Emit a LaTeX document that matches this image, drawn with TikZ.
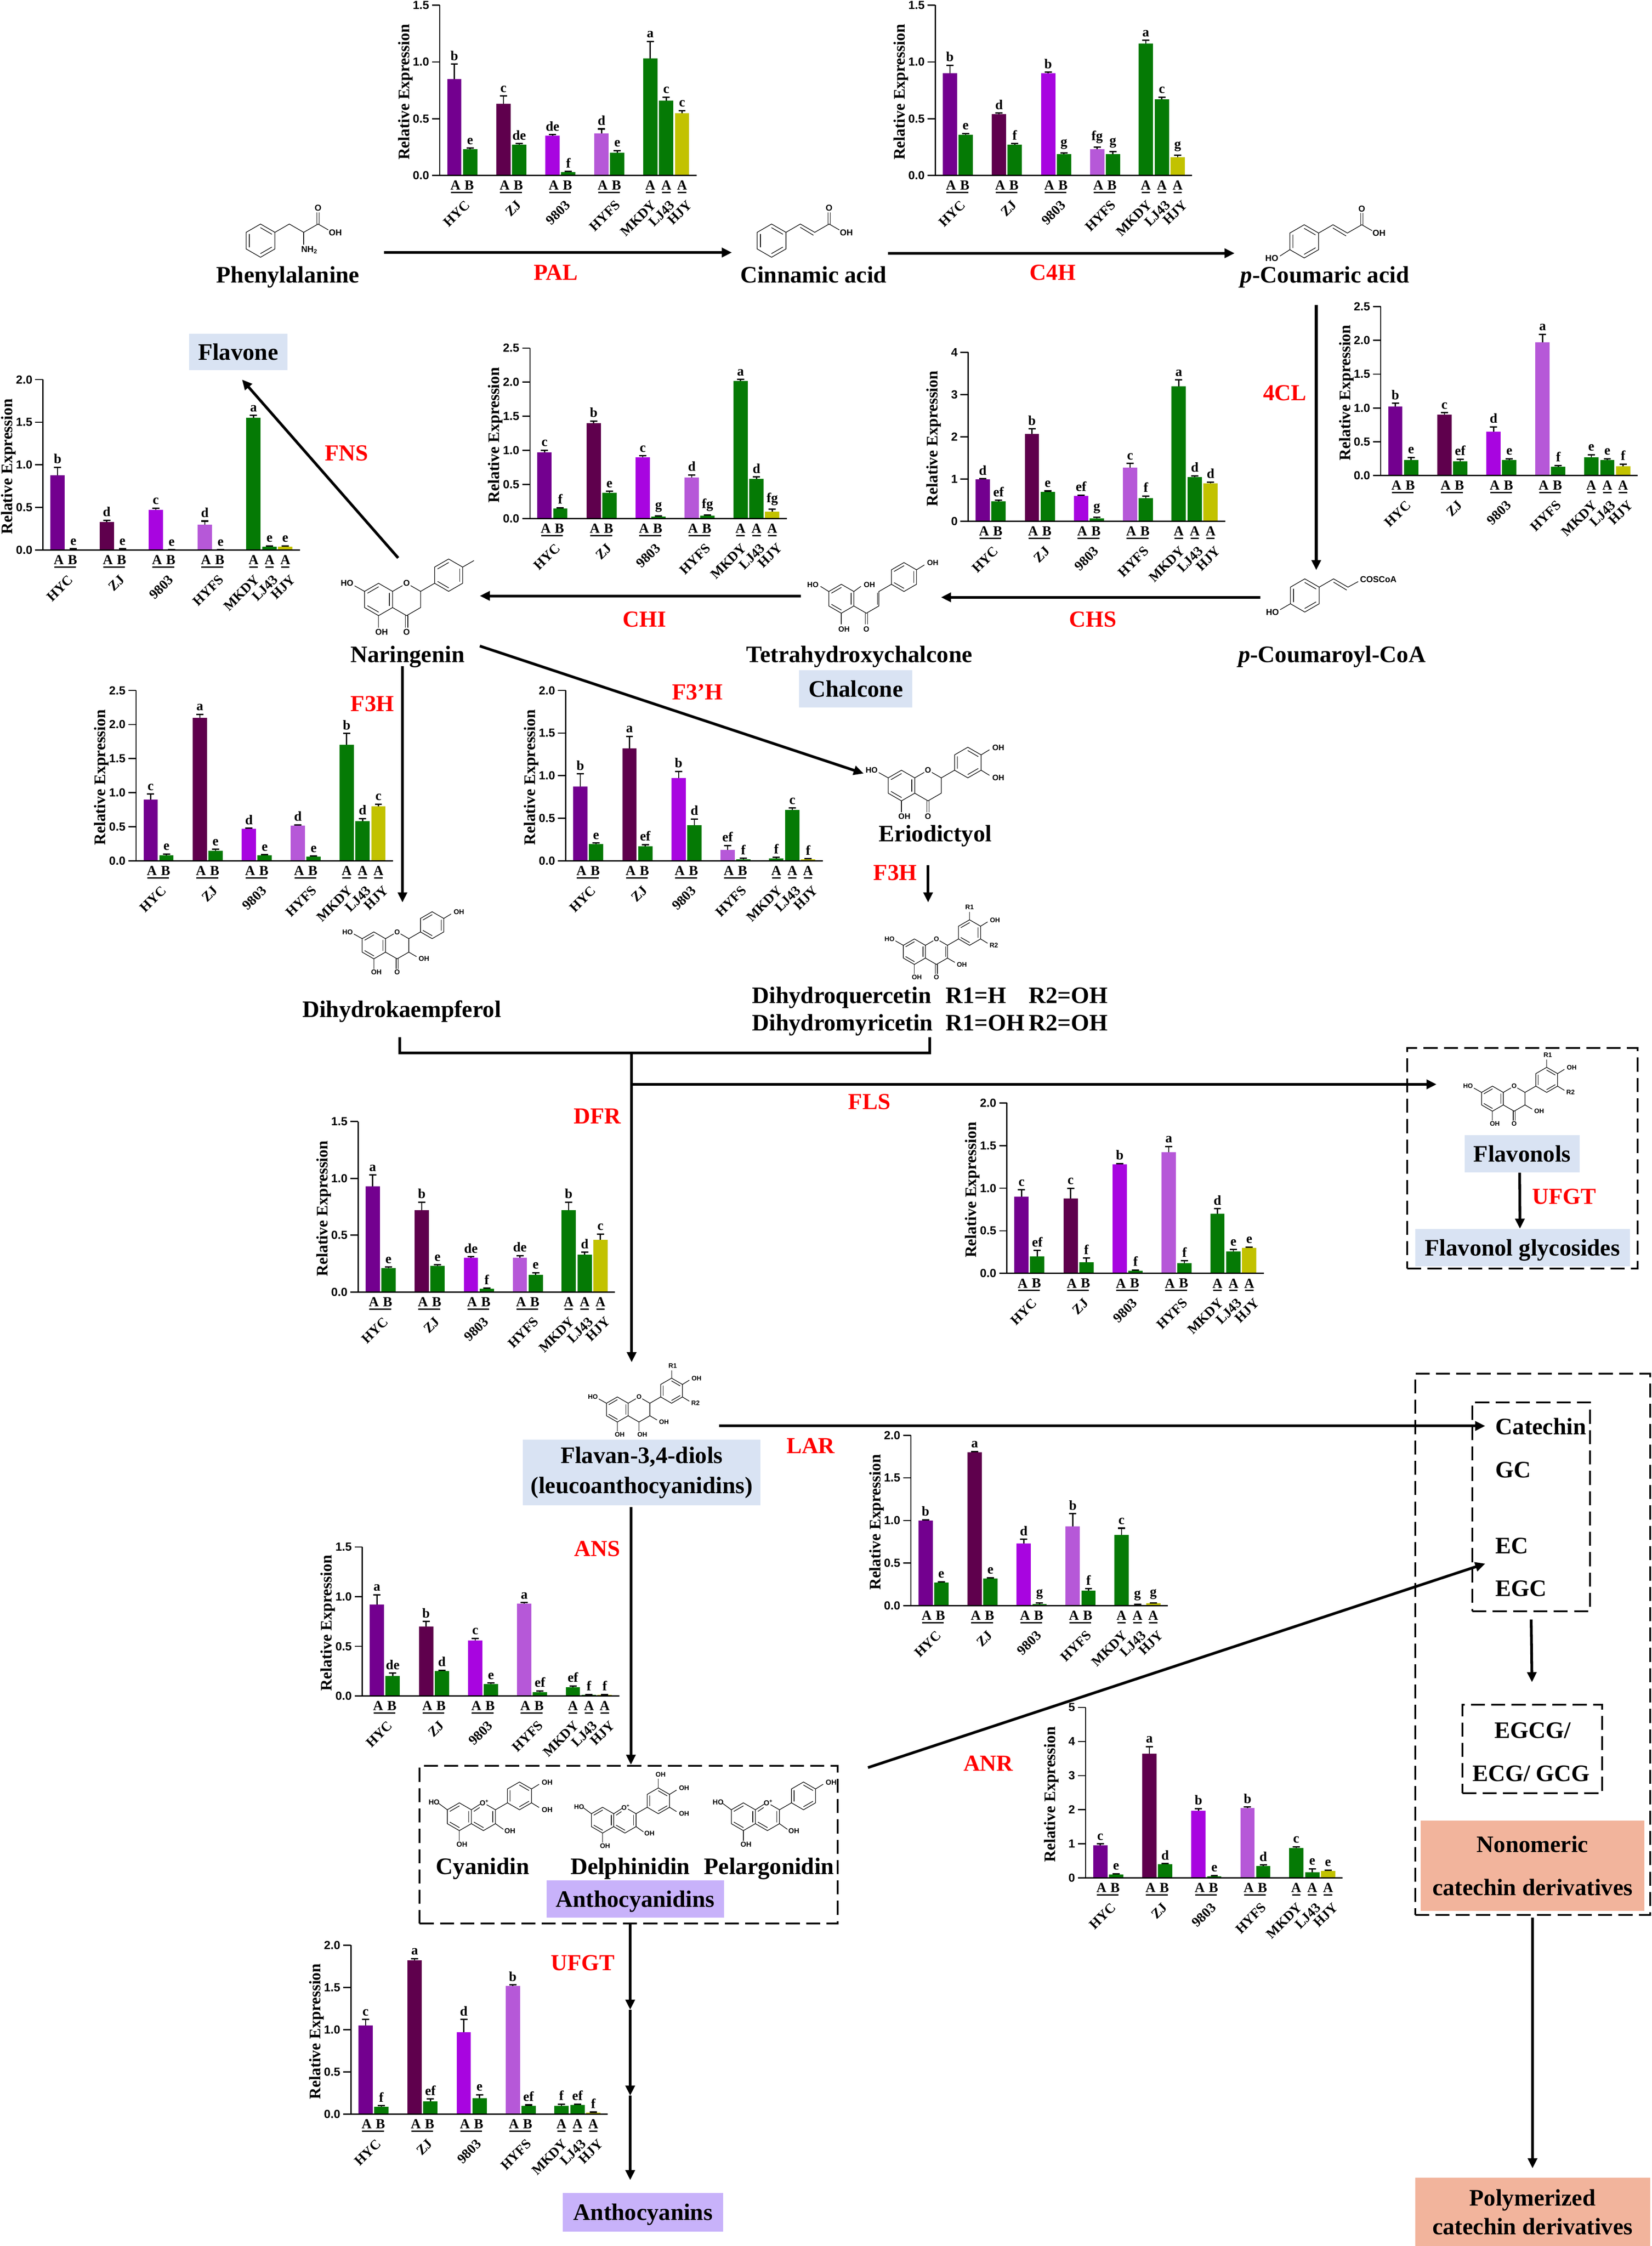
\documentclass[tikz,border=0pt]{standalone}
\usepackage{fontspec}
\setmainfont{Liberation Serif}
\newfontfamily\molfont{Liberation Sans}
\usetikzlibrary{arrows.meta}
\definecolor{c1}{HTML}{73008F}
\definecolor{c3}{HTML}{5F004D}
\definecolor{c5}{HTML}{A805E0}
\definecolor{c7}{HTML}{B658D8}
\definecolor{cg}{HTML}{057A05}
\definecolor{c11}{HTML}{C2C200}
\colorlet{c2}{cg}\colorlet{c4}{cg}\colorlet{c6}{cg}\colorlet{c8}{cg}\colorlet{c9}{cg}\colorlet{c10}{cg}
\definecolor{boxblue}{HTML}{D9E3F3}
\definecolor{boxviolet}{HTML}{C8B2FA}
\definecolor{boxsalmon}{HTML}{F2B49C}
\tikzset{
  ln/.style={line width=1.9pt,draw=black},
  arr/.style={ln,-{Triangle[length=7pt,width=6.4pt]}},
  bond/.style={line width=0.42pt,draw=black,line cap=round},
  mollab/.style={font=\molfont\bfseries\fontsize{\fs}{\fs}\selectfont,inner sep=0pt},
  cname/.style={font=\bfseries\fontsize{16.5}{18}\selectfont,inner sep=0pt,anchor=base,yshift=-5.5pt},
  cleft/.style={cname,anchor=base west},
  enz/.style={font=\bfseries\fontsize{16}{18}\selectfont,text=red,inner sep=0pt,anchor=base,yshift=-5.5pt},
  pbox/.style={font=\bfseries\fontsize{16.5}{18}\selectfont,inner sep=0pt,align=center},
  dashbox/.style={draw=black,line width=1.25pt,dash pattern=on 9.8pt off 4.4pt,inner sep=0pt},
  tick/.style={line width=.85pt,draw=black},
  ticklab/.style={font=\molfont\bfseries\fontsize{8.2}{9}\selectfont,inner sep=0pt,anchor=east},
  ylab/.style={font=\bfseries\fontsize{11.2}{12}\selectfont,inner sep=0pt,rotate=90},
  sig/.style={font=\bfseries\fontsize{9.5}{10}\selectfont,inner sep=0pt,anchor=south},
  ablab/.style={font=\bfseries\fontsize{9.7}{10}\selectfont,inner sep=0pt},
  cultivar/.style={font=\bfseries\fontsize{9.6}{10}\selectfont,inner sep=0pt,anchor=east,rotate=45}
}
\newcount\nlab
\newcommand\lab[2]{\global\advance\nlab 1 \node[mollab] (ml\the\nlab) at #1 {#2};}
\def\offs{{5.2,16.2,39.5,50.5,73.8,84.8,108,119,142,153.2,164.2}}
% id, x0, y0, H, ymax, ticks, data
\newcommand\chart[7]{%
  \foreach \v/\e/\l [count=\i] in {#7}{%
    \pgfmathsetmacro\off{\offs[\i-1]}%
    \pgfmathsetmacro\bx{#2+\off}%
    \pgfmathsetmacro\bxe{\bx+10}%
    \pgfmathsetmacro\bxc{\bx+5}%
    \pgfmathsetmacro\by{#3-#4*\v/#5}%
    \pgfmathsetmacro\ey{#3-#4*(\v+\e)/#5}%
    \fill[c\i] (\bx,#3) rectangle (\bxe,\by);
    \draw[line width=.8pt] (\bxc,\by) -- (\bxc,\ey);
    \draw[line width=.95pt] ({\bxc-2.5},\ey) -- ({\bxc+2.5},\ey);
    \node[sig] (#1-s\i) at (\bxc,{\ey-2.4}) {\l};
  }
  \draw[tick] (#2,{#3-#4}) -- (#2,#3);
  \draw[tick] ({#2-5.4},#3) -- ({#2+179.4},#3);
  \foreach \t [count=\i] in {#6}{%
    \pgfmathsetmacro\ty{#3-#4*\t/#5}%
    \draw[tick] ({#2-5.4},\ty) -- (#2,\ty);
    \node[ticklab] (#1-t\i) at ({#2-7.2},\ty) {\t};
  }
  \node[ylab] (#1-y) at ({#2-24},{#3-0.49*#4}) {Relative Expression};
  \foreach \g [count=\i] in {5.2,39.5,73.8,108}{%
    \node[ablab] (#1-a\i) at ({#2+\g+5.8},{#3+6.9}) {A};
    \node[ablab] (#1-b\i) at ({#2+\g+15.4},{#3+6.9}) {B};
    \draw[line width=1pt] ({#2+\g+2.6},{#3+11.9}) -- ({#2+\g+17.8},{#3+11.9});
  }
  \foreach \g [count=\i] in {147,158.2,169.2}{%
    \node[ablab] (#1-c\i) at ({#2+\g},{#3+6.9}) {A};
    \draw[line width=1pt] ({#2+\g-2.9},{#3+11.9}) -- ({#2+\g+2.9},{#3+11.9});
  }
  \foreach \rx/\nm [count=\i] in {19.5/HYC,55.5/ZJ,89.5/9803,124.5/HYFS,149.5/MKDY,162.5/LJ43,174.5/HJY}{%
    \node[cultivar] (#1-n\i) at ({#2+\rx},{#3+19}) {\nm};
  }
}
% molecule scope: x,y,b,body
\newcommand\mol[4]{%
  \pgfmathsetmacro\hh{0.866*#3}\pgfmathsetmacro\fs{0.52*#3}%
  \begin{scope}[shift={(#1,#2)},x=\hh pt,y=-#3pt]
  #4
  \end{scope}}
\newcommand\hexa[2]{\draw[bond] (#1,{#2-1}) -- ({#1+1},{#2-.5}) -- ({#1+1},{#2+.5}) -- (#1,{#2+1}) -- ({#1-1},{#2+.5}) -- ({#1-1},{#2-.5}) -- cycle;}
% inner edges: left-top, right, bottom-left
\newcommand\hexI[2]{\hexa{#1}{#2}
  \draw[bond] ({#1-.78},{#2-.39}) -- (#1,{#2-.78});
  \draw[bond] ({#1+.78},{#2-.39}) -- ({#1+.78},{#2+.39});
  \draw[bond] (#1,{#2+.78}) -- ({#1-.78},{#2+.39});}
% inner edges: right-top, right-bottom, left
\newcommand\hexII[2]{\hexa{#1}{#2}
  \draw[bond] (#1,{#2-.78}) -- ({#1+.78},{#2-.39});
  \draw[bond] ({#1+.78},{#2+.39}) -- (#1,{#2+.78});
  \draw[bond] ({#1-.78},{#2+.39}) -- ({#1-.78},{#2-.39});}
\newcommand\aring{\hexI{0}{0}
  \draw[bond] (-1,-.5) -- (-1.7,-.84);
  \draw[bond] (0,1) -- (0,1.73);
  \lab{(-2.25,-1)}{HO}\lab{(.22,2)}{OH}}
\newcommand\cbasic{%
  \draw[bond] (1,-.5) -- (1.7,-.85);
  \draw[bond] (2.3,-.85) -- (3,-.5) -- (3,.5) -- (2,1) -- (1,.5);
  \draw[bond] (3,-.5) -- (4,-1);
  \lab{(2,-1)}{O}}
\newcommand\cketo{\draw[bond] (1.91,1) -- (1.91,1.73); \draw[bond] (2.09,1) -- (2.09,1.73); \lab{(2,2)}{O}}
\newcommand\ohthree{\draw[bond] (3,.5) -- (3.65,.83); \lab{(4.3,1)}{OH}}
\newcommand\ohtop{\draw[bond] (6,-2) -- (6.62,-2.33); \lab{(7.3,-2.48)}{OH}}
\newcommand\ohlow{\draw[bond] (6,-1) -- (6.62,-.67); \lab{(7.3,-.5)}{OH}}
\newcommand\anth[1]{\hexI{0}{0}
  \draw[bond] (-1,-.5) -- (-1.7,-.95);
  \draw[bond] (0,1) -- (0,1.72);
  \lab{(-2.1,-1.05)}{HO}\lab{(.22,2)}{OH}
  \draw[bond] (1,-.5) -- (1.72,-.9);
  \draw[bond] (2.28,-.86) -- (3,-.5) -- (3,.5) -- (2,1) -- (1,.5);
  \draw[bond] (1.22,-.39) -- (1.68,-.66);
  \draw[bond] (2.78,-.39) -- (2.78,.39);
  \draw[bond] (2,.78) -- (1.22,.39);
  \draw[bond] (3,-.5) -- (4,-1);
  \draw[bond] (3,.5) -- (3.65,.9);
  \lab{(2.08,-1)}{O\textsuperscript{+}}\lab{(4.2,1.02)}{OH}
  \hexII{5}{-1.5}
  #1}
\newcommand\acid{\draw[bond] (3.92,-1) -- (3.92,-1.69); \draw[bond] (4.08,-1) -- (4.08,-1.69);
  \draw[bond] (4,-1) -- (4.7,-.65);
  \lab{(4,-1.97)}{O}\lab{(5.2,-.49)}{OH}}
\begin{document}
\begin{tikzpicture}[x=1pt,y=-1pt]
\useasboundingbox (0,0) rectangle (1153.3,1568);
% ---- charts
\chart{pal}{307}{122.5}{118.9}{1.5}{0.0,0.5,1.0,1.5}{.85/.13/b,.23/.01/e,.63/.07/c,.27/.01/de,.35/.01/de,.03/.005/f,.37/.04/d,.2/.02/e,1.03/.15/a,.66/.03/c,.55/.02/c}
\chart{cfh}{653}{122.5}{118.9}{1.5}{0.0,0.5,1.0,1.5}{.9/.07/b,.36/.01/e,.54/.01/d,.27/.01/f,.9/.01/b,.19/.01/g,.23/.02/fg,.19/.02/g,1.16/.03/a,.67/.02/c,.16/.02/g}
\chart{fcl}{964}{332}{118}{2.5}{0.0,0.5,1.0,1.5,2.0,2.5}{1.02/.05/b,.23/.04/e,.9/.03/c,.21/.03/ef,.65/.07/d,.23/.02/e,1.97/.12/a,.13/.02/f,.27/.04/e,.23/.02/e,.14/.03/f}
\chart{chs}{676}{364}{118}{4}{0,1,2,3,4}{1.0/.01/d,.48/.02/ef,2.07/.12/b,.7/.02/e,.6/.02/ef,.07/.03/g,1.27/.1/c,.55/.05/f,3.2/.15/a,1.05/.03/d,.9/.03/d}
\chart{chi}{370}{362}{119}{2.5}{0.0,0.5,1.0,1.5,2.0,2.5}{.97/.03/c,.15/.01/f,1.4/.03/b,.38/.02/e,.9/.02/c,.03/.01/g,.6/.04/d,.04/.01/fg,2.02/.02/a,.58/.03/d,.1/.04/fg}
\chart{fns}{30}{384}{119}{2}{0.0,0.5,1.0,1.5,2.0}{.88/.09/b,.01/.005/e,.33/.02/d,.01/.005/e,.47/.02/c,.002/.002/e,.3/.04/d,.002/.002/e,1.55/.03/a,.04/.01/e,.04/.01/e}
\chart{fth}{95}{601}{119}{2.5}{0.0,0.5,1.0,1.5,2.0,2.5}{.9/.08/c,.08/.02/e,2.1/.05/a,.15/.02/e,.47/.01/d,.08/.01/e,.52/.01/d,.06/.01/e,1.7/.17/b,.58/.04/d,.8/.03/c}
\chart{ftp}{395}{601}{119}{2}{0.0,0.5,1.0,1.5,2.0}{.87/.15/b,.2/.01/e,1.32/.14/a,.17/.02/ef,.97/.08/b,.42/.07/d,.13/.05/ef,.02/.01/f,.03/.01/f,.6/.02/c,.02/.005/f}
\chart{dfr}{250}{902}{119}{1.5}{0.0,0.5,1.0,1.5}{.93/.1/a,.21/.01/e,.72/.07/b,.23/.01/e,.3/.01/de,.03/.005/f,.3/.02/de,.15/.02/e,.72/.07/b,.33/.02/d,.46/.05/c}
\chart{fls}{703}{889}{119}{2}{0.0,0.5,1.0,1.5,2.0}{.9/.08/c,.2/.07/ef,.88/.12/c,.13/.05/f,1.28/.01/b,.03/.01/f,1.42/.07/a,.12/.03/f,.7/.06/d,.26/.02/e,.3/.01/e}
\chart{lar}{636}{1121}{119}{2}{0.0,0.5,1.0,1.5,2.0}{1.0/.01/b,.27/.01/e,1.8/.01/a,.32/.01/e,.73/.05/d,.02/.01/g,.93/.15/b,.18/.02/f,.83/.08/c,.01/.005/g,.03/.005/g}
\chart{ans}{253}{1184}{104}{1.5}{0.0,0.5,1.0,1.5}{.92/.1/a,.2/.03/de,.7/.05/b,.25/.01/d,.56/.02/c,.12/.01/e,.93/.01/a,.04/.01/ef,.09/.01/ef,.01/.005/f,.01/.005/f}
\chart{anr}{758}{1311}{119}{5}{0,1,2,3,4,5}{.95/.05/c,.1/.02/e,3.65/.2/a,.4/.02/d,1.97/.06/b,.05/.02/e,2.05/.03/b,.35/.03/d,.88/.03/c,.17/.1/e,.2/.03/e}
\chart{ufg}{245}{1476}{118}{2}{0.0,0.5,1.0,1.5,2.0}{1.05/.07/c,.09/.01/f,1.82/.02/a,.15/.03/ef,.97/.15/d,.19/.04/e,1.52/.01/b,.1/.01/ef,.1/.02/f,.11/.01/ef,.02/.005/f}
% ---- molecules
\mol{181.9}{168}{11.6}{\hexII{0}{0}
  \draw[bond] (1,-.5) -- (2,-1) -- (3,-.5) -- (4,-1);
  \draw[bond] (3,-.5) -- (3,.23);
  \acid \lab{(3.4,.55)}{NH\textsubscript{2}}}
\mol{538.7}{168}{11.6}{\hexII{0}{0}
  \draw[bond] (1,-.5) -- (2,-1) -- (3,-.5) -- (4,-1);
  \draw[bond] (2,-.8) -- (2.9,-.33);
  \acid}
\mol{910.6}{168.5}{11.6}{\hexII{0}{0}
  \draw[bond] (1,-.5) -- (2,-1) -- (3,-.5) -- (4,-1);
  \draw[bond] (2,-.8) -- (2.9,-.33);
  \acid \draw[bond] (-1,.5) -- (-1.68,.88); \lab{(-2.25,1.02)}{HO}}
\mol{911}{415.7}{11.6}{\hexII{0}{0}
  \draw[bond] (1,-.5) -- (2,-1) -- (3,-.5) -- (3.7,-.83);
  \draw[bond] (2,-.8) -- (2.9,-.33);
  \draw[bond] (-1,.5) -- (-1.7,.85); \lab{(-2.25,1.02)}{HO}
  \node[mollab,anchor=west] (coa) at (3.82,-.96) {COSCoA};}
\mol{587.4}{418}{10.1}{\hexI{0}{0}
  \draw[bond] (-1,-.5) -- (-1.65,-.85); \lab{(-2.27,-.98)}{HO}
  \draw[bond] (1,-.5) -- (1.55,-.85); \lab{(2.24,-.98)}{OH}
  \draw[bond] (0,1) -- (0,1.75); \lab{(.22,2.1)}{OH}
  \draw[bond] (1,.5) -- (2,1) -- (3,.5) -- (3,-.5) -- (4,-1);
  \draw[bond] (2.88,-.4) -- (2.88,.4);
  \draw[bond] (1.91,1) -- (1.91,1.75); \draw[bond] (2.09,1) -- (2.09,1.75); \lab{(2,2.1)}{O}
  \hexI{5}{-1.5} \ohtop}
\mol{264.3}{418.5}{11.3}{\aring \cbasic \cketo \hexI{5}{-1.5}
  \draw[bond] (6,-2) -- (6.8,-2.4);}
\mol{629.4}{548.4}{10.7}{\aring \cbasic \cketo \hexII{5}{-1.5} \ohtop \ohlow}
\mol{261}{660}{9.4}{\aring \cbasic \cketo \ohthree \hexI{5}{-1.5} \ohtop}
\mol{638.4}{664.4}{8.9}{\aring \cbasic \cketo \ohthree \draw[bond] (2.85,-.39) -- (2.85,.39); \hexI{5}{-1.5} \ohtop
  \draw[bond] (6,-1) -- (6.62,-.67); \lab{(7.2,-.5)}{R2}
  \draw[bond] (5,-2.5) -- (5,-3.1); \lab{(5,-3.5)}{R1}}
\mol{1042}{767}{8.75}{\aring \cbasic \cketo \ohthree \hexII{5}{-1.5} \ohtop
  \draw[bond] (6,-1) -- (6.62,-.67); \lab{(7.2,-.5)}{R2}
  \draw[bond] (5,-2.5) -- (5,-3.1); \lab{(5.1,-3.5)}{R1}}
\mol{431}{984}{8.75}{\aring \cbasic \ohthree \draw[bond] (2,1) -- (2,1.7); \lab{(2.3,2)}{OH} \hexII{5}{-1.5} \ohtop
  \draw[bond] (6,-1) -- (6.62,-.67); \lab{(7.2,-.5)}{R2}
  \draw[bond] (5,-2.5) -- (5,-3.1); \lab{(5.1,-3.5)}{R1}}
\mol{320.7}{1268.3}{9.7}{\anth{\ohtop\ohlow}}
\mol{420.7}{1270.7}{9}{\anth{\ohtop\ohlow \draw[bond] (5,-2.5) -- (5,-3.2); \lab{(5.2,-3.55)}{OH}}}
\mol{519}{1268.3}{9.7}{\anth{\ohtop}}
% ---- compound names
\node[cname] (phe) at (201,192) {Phenylalanine};
\node[cname] (cin) at (568,192) {Cinnamic acid};
\node[cname] (cou) at (925,192) {\textit{p}-Coumaric acid};
\node[cname] (cca) at (930,457) {\textit{p}-Coumaroyl-CoA};
\node[cname] (thc) at (600,457) {Tetrahydroxychalcone};
\node[cname] (nar) at (284.5,457) {Naringenin};
\node[cname] (eri) at (653,582) {Eriodictyol};
\node[cname] (dhk) at (280.5,704.5) {Dihydrokaempferol};
\node[cleft] (dhq) at (525,695) {\makebox[135pt][l]{Dihydroquercetin}\makebox[58pt][l]{R1=H}R2=OH};
\node[cleft] (dhm) at (525,714) {\makebox[135pt][l]{Dihydromyricetin}\makebox[58pt][l]{R1=OH}R2=OH};
\node[cname] (cya) at (337,1303) {Cyanidin};
\node[cname] (del) at (440,1303) {Delphinidin};
\node[cname] (pel) at (537,1303) {Pelargonidin};
% ---- coloured boxes
\node[pbox,fill=boxblue,minimum width=68.7pt,minimum height=25.4pt,text height=11.2pt,text depth=0pt] (flavone) at (166.3,245.7) {Flavone};
\node[pbox,fill=boxblue,minimum width=79pt,minimum height=26pt,text height=11.2pt,text depth=0pt] (chal) at (597.5,481) {Chalcone};
\node[pbox,fill=boxblue,minimum width=80.5pt,minimum height=26pt,text height=11.2pt,text depth=0pt] (flavonols) at (1062.8,805.5) {Flavonols};
\node[pbox,fill=boxblue,minimum width=150pt,minimum height=26pt,text height=11.2pt,text depth=0pt] (glyc) at (1063,871) {Flavonol glycosides};
\node[pbox,fill=boxblue,minimum width=166pt,minimum height=46pt,font=\bfseries\fontsize{16.5}{21}\selectfont] (flavan) at (448,1028) {Flavan-3,4-diols\\(leucoanthocyanidins)};
\node[pbox,fill=boxviolet,minimum width=124pt,minimum height=26pt,text height=11.2pt,text depth=0pt] (anthod) at (443.5,1325.8) {Anthocyanidins};
\node[pbox,fill=boxviolet,minimum width=112pt,minimum height=27pt,text height=11.2pt,text depth=0pt] (anthon) at (449,1544.5) {Anthocyanins};
\node[pbox,fill=boxsalmon,minimum width=156pt,minimum height=63pt,font=\bfseries\fontsize{16.5}{30}\selectfont] (nono) at (1070,1302.5) {Nonomeric\\catechin derivatives};
\node[pbox,fill=boxsalmon,minimum width=164pt,minimum height=47.5pt,font=\bfseries\fontsize{16.5}{20}\selectfont] (poly) at (1070,1544.2) {Polymerized\\catechin derivatives};
% ---- dashed boxes
\node[dashbox,minimum width=160.8pt,minimum height=154pt] (flbox) at (1062.9,808.5) {};
\node[dashbox,minimum width=292pt,minimum height=110.3pt] (anbox) at (439,1287.8) {};
\node[dashbox,minimum width=164pt,minimum height=378pt] (bigbox) at (1070,1148) {};
\node[dashbox,minimum width=82pt,minimum height=146pt] (catbox) at (1069,1052) {};
\node[dashbox,minimum width=97.6pt,minimum height=62pt] (egbox) at (1069.8,1221) {};
\node[cleft] (cat) at (1044,996) {Catechin};
\node[cleft] (gc) at (1044,1026) {GC};
\node[cleft] (ec) at (1044,1079) {EC};
\node[cleft] (egc) at (1044,1109) {EGC};
\node[cname] (egcg) at (1070,1208) {EGCG/};
\node[cname] (ecg) at (1069,1238) {ECG/ GCG};
% ---- enzymes
\node[enz] (ePAL) at (388,190) {PAL};
\node[enz] (eC4H) at (735,190) {C4H};
\node[enz] (e4CL) at (897,274) {4CL};
\node[enz] (eCHS) at (763,432) {CHS};
\node[enz] (eCHI) at (450,432) {CHI};
\node[enz] (eFNS) at (242,316) {FNS};
\node[enz] (eF3H) at (260,491) {F3H};
\node[enz] (eF3p) at (487,483) {F3’H};
\node[enz] (eF3H2) at (625,609) {F3H};
\node[enz] (eDFR) at (417,779) {DFR};
\node[enz] (eFLS) at (607,769) {FLS};
\node[enz] (eUF1) at (1092,835) {UFGT};
\node[enz] (eLAR) at (566,1009) {LAR};
\node[enz] (eANS) at (417,1081) {ANS};
\node[enz] (eANR) at (690,1231) {ANR};
\node[enz] (eUF2) at (407,1370) {UFGT};
% ---- connector ends
\coordinate (palS) at (268,176.3); \coordinate (palE) at (511,176.3);
\coordinate (c4hS) at (620,176.8); \coordinate (c4hE) at (862,176.8);
\coordinate (clS) at (919,213); \coordinate (clE) at (919,398);
\coordinate (chsS) at (880,417); \coordinate (chsE) at (657,417);
\coordinate (chiS) at (559,416); \coordinate (chiE) at (335,416);
\coordinate (fnsS) at (278,389.5); \coordinate (fnsE) at (169,265);
\coordinate (ftpS) at (335,451); \coordinate (ftpE) at (603,540);
\coordinate (fthS) at (281,465); \coordinate (fthE) at (281,630);
\coordinate (eriS) at (648,604); \coordinate (eriE) at (648,630);
\coordinate (brA) at (279,724); \coordinate (brB) at (279,735); \coordinate (brC) at (649,735); \coordinate (brD) at (649,724);
\coordinate (trS) at (441,735); \coordinate (trE) at (441,951);
\coordinate (flS) at (441,757); \coordinate (flE) at (1003,757);
\coordinate (laS) at (502,995.5); \coordinate (laE) at (1037,995.5);
\coordinate (anrS) at (606,1234); \coordinate (anrE) at (1037,1091.6);
\coordinate (ansS) at (440.5,1052); \coordinate (ansE) at (440.5,1232);
\coordinate (u1) at (440,1343); \coordinate (u2) at (440,1403); \coordinate (u3) at (440,1463); \coordinate (u4) at (440,1522);
% ---- connectors
\draw[arr] (palS) -- (palE);
\draw[arr] (c4hS) -- (c4hE);
\draw[arr] (clS) -- (clE);
\draw[arr] (chsS) -- (chsE);
\draw[arr] (chiS) -- (chiE);
\draw[arr] (fnsS) -- (fnsE);
\draw[arr] (ftpS) -- (ftpE);
\draw[arr] (fthS) -- (fthE);
\draw[arr] (eriS) -- (eriE);
\draw[ln] (brA) -- (brB) -- (brC) -- (brD);
\draw[arr] (trS) -- (trE);
\draw[arr] (flS) -- (flE);
\draw[arr] ([xshift=-1.8pt]flavonols.south) -- ([xshift=-1.8pt]glyc.north);
\draw[arr] (laS) -- (laE);
\draw[arr] (anrS) -- (anrE);
\draw[arr] (ansS) -- (ansE);
\draw[arr] (u1) -- (u2);
\draw[arr] (u2) -- (u3);
\draw[arr] (u3) -- (u4);
\draw[arr,shorten <=5pt,shorten >=15pt] (catbox.south) -- (egbox.north);
\draw[arr,shorten <=1pt,shorten >=6.5pt] (bigbox.south) -- (poly.north);
\end{tikzpicture}
\end{document}
